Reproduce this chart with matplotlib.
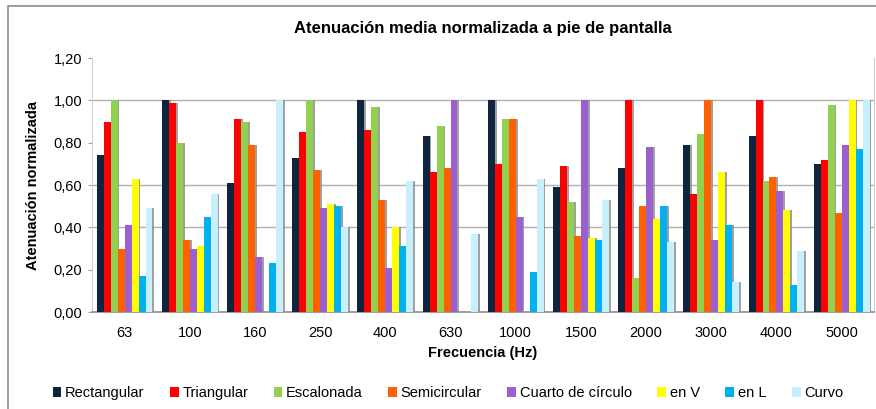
"""
Atenuacion media normalizada a pie de pantalla
Grouped bars per frequency band, one bar per screen shape
"""

import matplotlib
matplotlib.use("Agg")
import matplotlib.pyplot as plt
import matplotlib.patheffects as pe
from matplotlib.patches import Rectangle
from matplotlib.ticker import FuncFormatter
import numpy as np


plt.rcParams['font.family'] = ['Liberation Sans', 'DejaVu Sans']


frecuencias = ["63", "100", "160", "250", "400", "630", "1000", "1500", "2000", "3000", "4000", "5000"]

rectangular  = [0.74, 1.00, 0.61, 0.73, 1.00, 0.83, 1.00, 0.59, 0.68, 0.79, 0.83, 0.70]
triangular   = [0.90, 0.99, 0.91, 0.85, 0.86, 0.66, 0.70, 0.69, 1.00, 0.56, 1.00, 0.72]
escalonada   = [1.00, 0.80, 0.90, 1.00, 0.97, 0.88, 0.91, 0.52, 0.16, 0.84, 0.62, 0.98]
semicircular = [0.30, 0.34, 0.79, 0.67, 0.53, 0.68, 0.91, 0.36, 0.50, 1.00, 0.64, 0.47]
cuarto       = [0.41, 0.30, 0.26, 0.49, 0.21, 1.00, 0.45, 1.00, 0.78, 0.34, 0.57, 0.79]
en_v         = [0.63, 0.31, 0.00, 0.51, 0.40, 0.00, 0.00, 0.35, 0.44, 0.66, 0.48, 1.00]
en_l         = [0.17, 0.45, 0.23, 0.50, 0.31, 0.00, 0.19, 0.34, 0.50, 0.41, 0.13, 0.77]
curvo        = [0.49, 0.56, 1.00, 0.40, 0.62, 0.37, 0.63, 0.53, 0.33, 0.14, 0.29, 1.00]

series = [rectangular, triangular, escalonada, semicircular, cuarto, en_v, en_l, curvo]
nombres = ["Rectangular", "Triangular", "Escalonada", "Semicircular", "Cuarto de círculo", "en V", "en L", "Curvo"]
colores = ["#0F243E", "#FF0000", "#92D050", "#FF6000", "#9B5FCF", "#FFFF00", "#00B0F0", "#C8F0FC"]


fig = plt.figure(figsize=(8.76, 4.09), dpi=100)
ax = fig.add_axes([0.105, 0.237, 0.893, 0.621])

# outer chart frame
fig.patches.append(Rectangle((8/876, -0.1), 1.2, 1.1 - 6/409, transform=fig.transFigure,
                             fill=False, edgecolor="#8C8C8C", linewidth=1.2))

x = np.arange(len(frecuencias))
w = 0.107
sombra = [pe.withSimplePatchShadow(offset=(1.3, 0), shadow_rgbFace="#8A8A8A", alpha=0.8)]

for i, (vals, nombre, c) in enumerate(zip(series, nombres, colores)):
    ax.bar(x + (i - 3.5)*w, vals, w, color=c, label=nombre, path_effects=sombra, zorder=3)

ax.set_xlim(-0.5, len(frecuencias) - 0.5)
ax.set_ylim(0, 1.2)
ax.set_yticks(np.arange(0, 1.21, 0.2))
ax.yaxis.set_major_formatter(FuncFormatter(lambda v, p: f"{v:.2f}".replace(".", ",")))
ax.set_xticks(x)
ax.set_xticklabels(frecuencias)

ax.grid(axis="y", color="#B0B0B0", linewidth=1, zorder=0)
# only some gridlines show in the original picture
for t, gl in zip(ax.get_yticks(), ax.yaxis.get_gridlines()):
    if round(t, 2) not in (0.4, 0.6, 1.0):
        gl.set_visible(False)

ax.tick_params(axis="y", length=3, color="#A0A0A0", labelsize=10.5, pad=4)
ax.tick_params(axis="x", length=0, labelsize=10.5, pad=10)

ax.spines["top"].set_visible(False)
ax.spines["left"].set_color("#D0D0D0")
ax.spines["right"].set_color("#D0D0D0")
ax.spines["bottom"].set_color("#8C8C8C")
ax.spines["bottom"].set_linewidth(1.2)

ax.set_title("Atenuación media normalizada a pie de pantalla", fontsize=12, fontweight="bold", pad=18)
ax.set_xlabel("Frecuencia (Hz)", fontsize=10.5, fontweight="bold", labelpad=4)
ax.set_ylabel("Atenuación normalizada", fontsize=10.5, fontweight="bold", labelpad=10)

leg = ax.legend(loc="upper center", bbox_to_anchor=(0.455, -0.24), ncol=8, frameon=False,
                fontsize=10.5, handlelength=0.6, handleheight=0.6, handletextpad=0.25, columnspacing=1.75)
for h in leg.legend_handles:
    h.set_path_effects([])

fig.savefig("out.png", dpi=100)
